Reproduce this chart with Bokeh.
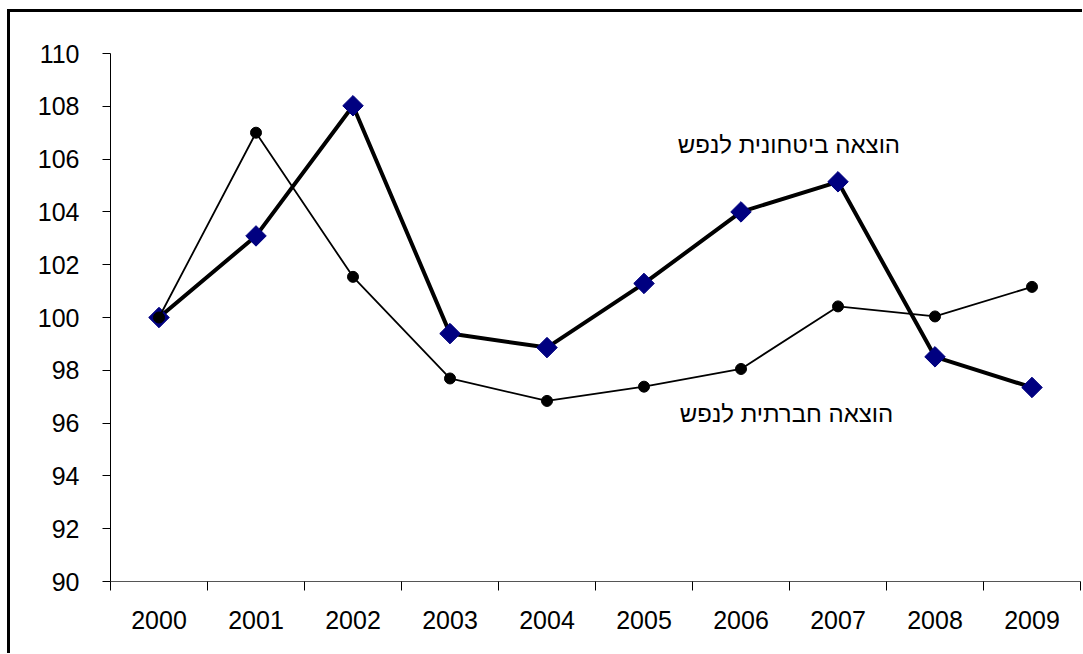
from bokeh.plotting import figure
from bokeh.models import FixedTicker, Label, Range1d
from bokeh.embed import file_html
from bokeh.resources import INLINE

# ---- data ----
years = ["2000", "2001", "2002", "2003", "2004", "2005", "2006", "2007", "2008", "2009"]
defense = [100.0, 103.09, 108.02, 99.39, 98.86, 101.29, 104.0, 105.14, 98.51, 97.35]
social = [100.0, 107.0, 101.54, 97.69, 96.84, 97.38, 98.05, 100.42, 100.04, 101.16]
y_ticks = [90, 92, 94, 96, 98, 100, 102, 104, 106, 108, 110]
defense_label = "הוצאה ביטחונית לנפש"
social_label = "הוצאה חברתית לנפש"

FONT = "Liberation Sans"

x_pos = [i + 0.5 for i in range(len(years))]
boundaries = list(range(len(years) + 1))

p = figure(
    frame_width=970, frame_height=528,
    min_border_left=100, min_border_right=2, min_border_top=41, min_border_bottom=72,
    x_range=Range1d(0, len(years)), y_range=Range1d(y_ticks[0], y_ticks[-1]),
    output_backend="svg", toolbar_location=None,
)
p.styles = {"border-left": "3px solid black", "border-top": "3px solid black",
            "margin-left": "7px", "margin-top": "9px"}
p.outline_line_color = None
p.xgrid.visible = False
p.ygrid.visible = False
p.background_fill_color = "white"
p.border_fill_color = "white"

# x axis: labels at category centers, ticks at category boundaries
p.xaxis.ticker = FixedTicker(ticks=x_pos, minor_ticks=boundaries)
p.xaxis.major_label_overrides = {x: y for x, y in zip(x_pos, years)}
p.xaxis.major_tick_line_color = None
p.xaxis.major_tick_out = 0
p.xaxis.major_tick_in = 0
p.xaxis.minor_tick_line_color = "black"
p.xaxis.minor_tick_out = 9
p.xaxis.minor_tick_in = 0
p.xaxis.axis_line_color = "#555555"
p.xaxis.major_label_standoff = 20

# y axis
p.yaxis.ticker = FixedTicker(ticks=y_ticks, minor_ticks=[])
p.yaxis.major_tick_out = 8
p.yaxis.major_tick_in = 0
p.yaxis.major_tick_line_color = "black"
p.yaxis.axis_line_color = "black"
p.yaxis.major_label_standoff = 23

for ax in (p.xaxis, p.yaxis):
    ax.major_label_text_font = FONT
    ax.major_label_text_font_size = "25px"
    ax.major_label_text_color = "black"

# defense series (thick line, navy diamonds)
p.line(x_pos, defense, line_color="black", line_width=4)
p.scatter(x_pos, defense, marker="square", size=14.5, angle=0.785398,
          fill_color="#000080", line_color="#000080")

# social series (thin line, black dots)
p.line(x_pos, social, line_color="black", line_width=1.8)
p.scatter(x_pos, social, marker="circle", size=11, fill_color="black", line_color="black")

p.add_layout(Label(x=8.14, y=106.55, text=defense_label, text_align="right",
                   text_baseline="middle", text_font=FONT, text_font_size="24px",
                   text_color="black"))
p.add_layout(Label(x=8.07, y=96.35, text=social_label, text_align="right",
                   text_baseline="middle", text_font=FONT, text_font_size="24px",
                   text_color="black"))

open("out.html", "w").write(file_html(p, INLINE))
